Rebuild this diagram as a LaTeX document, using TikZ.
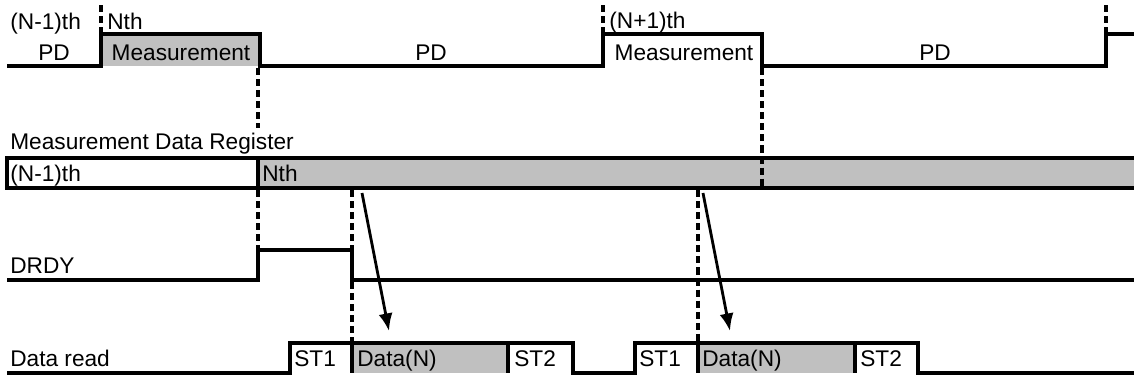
\documentclass[tikz,border=0pt]{standalone}
\usepackage{fontspec}
\setmainfont{Liberation Sans}
\usetikzlibrary{arrows.meta}

\definecolor{datagray}{RGB}{192,192,192}

\tikzset{
  sig/.style={line width=2.6pt, line join=miter},
  guide/.style={line width=1.8pt, dash pattern=on 4pt off 2.3pt},
  lbl/.style={inner sep=0pt, anchor=base west, font=\fontsize{12.9}{16}\selectfont},
  clbl/.style={lbl, anchor=base},
  readarrow/.style={line width=1.6pt, -{Latex[length=10pt,width=8pt]}}
}

\begin{document}
\begin{tikzpicture}[x=0.02cm,y=-0.02cm]

  \useasboundingbox (0,0) rectangle (1134,380);

  % measurement cycle
  \fill[datagray] (101,34) rectangle (260,66);
  \draw[sig] (7,66) -- (101,66) -- (101,34) -- (260,34) -- (260,66) -- (603,66)
    -- (603,34) -- (762,34) -- (762,66) -- (1106,66) -- (1106,34) -- (1134,34);

  \node[lbl] (prev) at (10,29) {(N-1)th};
  \node[lbl] (cur) at (107,29) {Nth};
  \node[lbl] (next) at (609,28) {(N+1)th};
  \node[clbl] (pd1) at (54,60) {PD};
  \node[clbl] (meas1) at (181,60) {Measurement};
  \node[clbl] (pd2) at (431,60) {PD};
  \node[clbl] (meas2) at (684,60) {Measurement};
  \node[clbl] (pd3) at (935,60) {PD};

  % register
  \node[lbl] (reglabel) at (10,149) {Measurement Data Register};
  \fill[datagray] (258,158) rectangle (1134,188);
  \draw[sig] (1134,158) -- (7,158) -- (7,188) -- (1134,188);
  \draw[sig] (258,158) -- (258,188);
  \node[lbl] (regprev) at (10,181) {(N-1)th};
  \node[lbl] (regcur) at (262,181) {Nth};

  % DRDY
  \node[lbl] (drdy) at (10,273) {DRDY};
  \draw[sig] (7,280) -- (258,280) -- (258,250) -- (352,250) -- (352,280) -- (1134,280);

  % data read
  \node[lbl] (dread) at (10,366) {Data read};
  \fill[datagray] (352,343) rectangle (508,373);
  \fill[datagray] (698,343) rectangle (855,373);
  \draw[sig] (7,373) -- (290,373) -- (290,343) -- (573,343) -- (573,373) -- (635,373)
    -- (635,343) -- (918,343) -- (918,373) -- (1134,373);
  \draw[sig] (352,343) -- (352,373);
  \draw[sig] (508,343) -- (508,373);
  \draw[sig] (698,343) -- (698,373);
  \draw[sig] (855,343) -- (855,373);

  \node[lbl] (st1a) at (294,366) {ST1};
  \node[lbl] (data1) at (357,366) {Data(N)};
  \node[lbl] (st2a) at (514,366) {ST2};
  \node[lbl] (st1b) at (639,366) {ST1};
  \node[lbl] (data2) at (702,366) {Data(N)};
  \node[lbl] (st2b) at (860,366) {ST2};

  % timing guides
  \draw[guide] (101,5) -- (101,34);
  \draw[guide] (603,5) -- (603,34);
  \draw[guide] (1106,5) -- (1106,34);
  \draw[guide] (258,68) -- (258,128);
  \draw[guide] (258,190) -- (258,250);
  \draw[guide] (762,68) -- (762,188);
  \draw[guide] (352,190) -- (352,250);
  \draw[guide] (352,282) -- (352,343);
  \draw[guide] (698,190) -- (698,343);

  % read-out arrows
  \coordinate (from1) at (362,193);
  \coordinate (to1) at (389,331);
  \coordinate (from2) at (703,193);
  \coordinate (to2) at (730,331);
  \draw[readarrow] (from1) -- (to1);
  \draw[readarrow] (from2) -- (to2);

\end{tikzpicture}
\end{document}
